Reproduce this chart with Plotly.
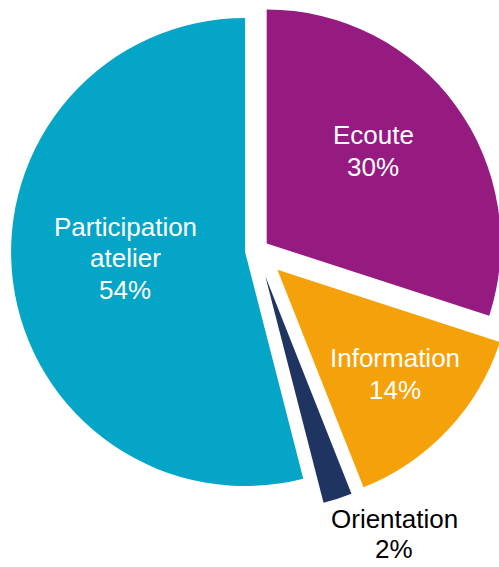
import math
import plotly.graph_objects as go

# Data
categories = ["Ecoute", "Information", "Orientation", "Participation atelier"]
label_lines = [["Ecoute"], ["Information"], ["Orientation"], ["Participation", "atelier"]]
values = [30, 14, 2, 54]

# Styles
colors = ["#951B81", "#F5A10A", "#1F3461", "#05A5C7"]
label_colors = ["white", "white", "black", "white"]
pull_px = [12, 28, 27, 12]          # how far each slice is pulled out (px)
label_x_px = [373, 395, 394, 125]   # label centre x (px)
label_y_px = [[135, 167], [358, 390], [519, 549], [227, 258, 290]]  # centre of each line (px)

# Geometry (px)
W, H = 520, 567
R = 234
CX, CY = 257.0, 250.5   # common pie centre

total = sum(values)
fig = go.Figure()
cum = 0.0
for i, v in enumerate(values):
    mid = (cum + v / 2) / total * 2 * math.pi      # clockwise from 12 o'clock
    cum += v
    ax = CX + pull_px[i] * math.sin(mid)
    ay = CY - pull_px[i] * math.cos(mid)
    slice_colors = [colors[j] if j == i else "rgba(0,0,0,0)" for j in range(len(values))]
    fig.add_trace(
        go.Pie(
            labels=categories,
            values=values,
            textinfo="none",
            marker=dict(colors=slice_colors, line=dict(width=0)),
            sort=False,
            direction="clockwise",
            rotation=0,
            showlegend=False,
            hoverinfo="label+percent",
            domain=dict(
                x=[max(0, (ax - R) / W), min(1, (ax + R) / W)],
                y=[max(0, 1 - (ay + R) / H), min(1, 1 - (ay - R) / H)],
            ),
        )
    )

# Slice labels: category + percentage, one annotation per line
for i, v in enumerate(values):
    lines = label_lines[i] + [f"{round(100 * v / total)}%"]
    for line, ly in zip(lines, label_y_px[i]):
        fig.add_annotation(
            text=line,
            x=label_x_px[i] / W,
            y=1 - ly / H,
            xref="paper",
            yref="paper",
            xanchor="center",
            yanchor="middle",
            showarrow=False,
            font=dict(family="Liberation Sans, Arial, sans-serif", size=26, color=label_colors[i]),
        )

fig.update_layout(
    width=W,
    height=H,
    margin=dict(l=0, r=0, t=0, b=0),
    paper_bgcolor="white",
    plot_bgcolor="white",
)

fig.write_html(
    "out.html",
    config={"displayModeBar": False},
    post_script=(
        "document.documentElement.style.overflow='hidden';"
        "document.body.style.overflow='hidden';"
        "document.body.style.margin='0';"
    ),
)
